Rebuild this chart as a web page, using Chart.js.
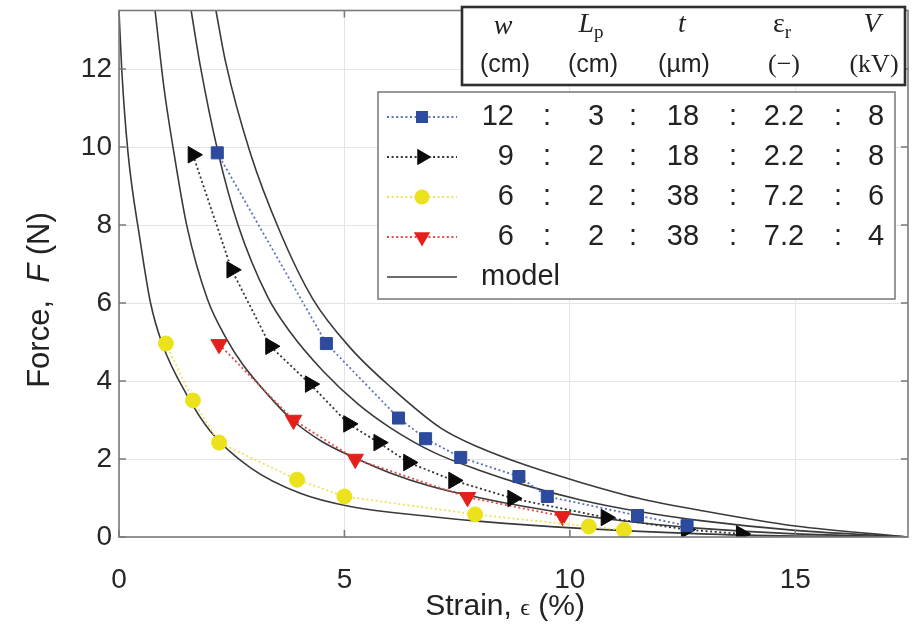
<!DOCTYPE html>
<html>
<head>
<meta charset="utf-8">
<script src="https://cdn.jsdelivr.net/npm/chart.js@4.4.0/dist/chart.umd.min.js"></script>
<style>
  html, body { margin: 0; padding: 0; background: #fff; }
</style>
</head>
<body>
<canvas id="forcechart" width="919" height="636"></canvas>
<script>
// measured points, strain (%) vs force (N)
var strainBlue = [2.18, 4.6, 6.2, 6.8, 7.58, 8.87, 9.5, 11.5, 12.6];
var forceBlue = [9.85, 4.96, 3.05, 2.52, 2.04, 1.55, 1.04, 0.55, 0.29];

var strainBlack = [1.64, 2.5, 3.36, 4.24, 5.09, 5.76, 6.42, 7.42, 8.73, 10.8, 12.58, 13.8];
var forceBlack = [9.8, 6.85, 4.89, 3.92, 2.9, 2.42, 1.91, 1.45, 0.99, 0.5, 0.19, 0.08];

var strainYellow = [1.04, 1.64, 2.22, 3.95, 5.0, 7.9, 10.42, 11.2];
var forceYellow = [4.96, 3.5, 2.42, 1.47, 1.04, 0.58, 0.27, 0.18];

var strainRed = [2.22, 3.87, 5.24, 7.73, 9.84];
var forceRed = [4.94, 3.0, 2.0, 1.02, 0.53];

// model curves, sampled off the figure
var modelAx = [0.0, 0.06, 0.2, 0.47, 0.7, 0.96, 1.5, 2.02, 2.91, 4.02, 5.13, 6.95, 8.02, 10.24, 12.9, 15, 17.5];
var modelAy = [13.5, 12.0, 9.85, 7.6, 6.0, 4.95, 3.65, 2.72, 1.78, 1.12, 0.78, 0.52, 0.4, 0.22, 0.08, 0.025, 0];
var modelBx = [0.8, 1.0, 1.24, 1.51, 1.96, 2.4, 2.73, 3.3, 3.84, 4.5, 5.29, 6.0, 6.91, 8.02, 9.0, 10.24, 11.5, 12.9, 15, 17.5];
var modelBy = [13.5, 11.5, 9.7, 7.95, 6.1, 5.05, 4.45, 3.65, 3.0, 2.45, 2.0, 1.65, 1.3, 1.0, 0.78, 0.55, 0.37, 0.22, 0.08, 0];
var modelCx = [1.6, 1.8, 2.2, 2.64, 3.3, 3.8, 4.53, 5.29, 6.02, 6.98, 8.02, 9.0, 10.24, 11.5, 12.9, 15, 17.5];
var modelCy = [13.5, 12.1, 9.85, 8.0, 6.15, 5.25, 4.25, 3.42, 2.8, 2.17, 1.7, 1.33, 0.95, 0.66, 0.42, 0.17, 0];
var modelDx = [2.15, 2.36, 2.91, 3.58, 4.3, 5.13, 6.02, 7.13, 8.02, 9.0, 10.24, 11.5, 12.9, 15, 17.5];
var modelDy = [13.5, 12.2, 9.85, 7.8, 6.1, 4.85, 3.85, 2.8, 2.28, 1.85, 1.4, 1.0, 0.68, 0.28, 0];

var xTicks = [0, 5, 10, 15];
var yTicks = [0, 2, 4, 6, 8, 10, 12];

// legend table
var legendW = ['12', '9', '6', '6'];
var legendLp = ['3', '2', '2', '2'];
var legendT = ['18', '18', '38', '38'];
var legendEr = ['2.2', '2.2', '7.2', '7.2'];
var legendV = ['8', '8', '6', '4'];
var headerUnits = ['(cm)', '(cm)', '(\u00b5m)', '(\u2212)', '(kV)'];

var SANS = '"Liberation Sans", Arial, sans-serif';
var SERIF = '"Liberation Serif", "DejaVu Serif", serif';

function pts(xs, ys) {
  return xs.map(function (x, i) { return { x: x, y: ys[i] }; });
}

var series = [
  { data: pts(strainBlue, forceBlue), marker: 'rect', rot: 0, r: 8.5, fill: '#2c4a9e', line: '#5b72bb' },
  { data: pts(strainBlack, forceBlack), marker: 'triangle', rot: 90, r: 9.5, fill: '#0a0a0a', line: '#333333' },
  { data: pts(strainYellow, forceYellow), marker: 'circle', rot: 0, r: 7.5, fill: '#ece21c', line: '#ece35a' },
  { data: pts(strainRed, forceRed), marker: 'triangle', rot: 180, r: 9.5, fill: '#e3201b', line: '#e24a45' }
];
var models = [pts(modelAx, modelAy), pts(modelBx, modelBy), pts(modelCx, modelCy), pts(modelDx, modelDy)];

var datasets = [];
series.forEach(function (s) {
  datasets.push({
    data: s.data, showLine: true, order: 1,
    borderColor: s.line, borderWidth: 1.8, borderDash: [2, 2.6],
    pointStyle: s.marker, rotation: s.rot, pointRadius: s.r,
    pointBackgroundColor: s.fill, pointBorderColor: s.fill, pointBorderWidth: 1
  });
});
models.forEach(function (m) {
  datasets.push({
    data: m, showLine: true, order: 5, pointRadius: 0,
    borderColor: '#3a3a3a', borderWidth: 1.6, cubicInterpolationMode: 'monotone'
  });
});

function drawMarker(ctx, style, rot, x, y, r, color) {
  ctx.save();
  ctx.fillStyle = color;
  ctx.beginPath();
  if (style === 'rect') {
    var s = r * Math.SQRT1_2;
    ctx.rect(x - s, y - s, 2 * s, 2 * s);
  } else if (style === 'circle') {
    ctx.arc(x, y, r, 0, Math.PI * 2);
  } else {
    var a = rot * Math.PI / 180;
    for (var k = 0; k < 3; k++) {
      var px = x + Math.sin(a) * r, py = y - Math.cos(a) * r;
      if (k === 0) ctx.moveTo(px, py); else ctx.lineTo(px, py);
      a += 2 * Math.PI / 3;
    }
    ctx.closePath();
  }
  ctx.fill();
  ctx.restore();
}

// draws text made of several runs with different fonts, centred on cx
function drawRich(ctx, parts, cx, cy) {
  var total = 0;
  parts.forEach(function (p) { ctx.font = p.f; p.w = ctx.measureText(p.t).width; total += p.w; });
  var x = cx - total / 2;
  ctx.textAlign = 'left';
  ctx.textBaseline = 'middle';
  parts.forEach(function (p) {
    ctx.font = p.f;
    ctx.fillText(p.t, x, cy + (p.dy || 0));
    x += p.w;
  });
}

var decorations = {
  id: 'decorations',
  afterDraw: function (chart) {
    var ctx = chart.ctx, a = chart.chartArea;
    var xs = chart.scales.x, ys = chart.scales.y;
    ctx.save();

    // frame + inner ticks
    ctx.strokeStyle = '#7a7a7a';
    ctx.lineWidth = 1.6;
    ctx.strokeRect(a.left, a.top, a.right - a.left, a.bottom - a.top);
    ctx.beginPath();
    xTicks.forEach(function (v) {
      var p = xs.getPixelForValue(v);
      ctx.moveTo(p, a.bottom); ctx.lineTo(p, a.bottom - 7);
      ctx.moveTo(p, a.top); ctx.lineTo(p, a.top + 7);
    });
    yTicks.forEach(function (v) {
      var p = ys.getPixelForValue(v);
      ctx.moveTo(a.left, p); ctx.lineTo(a.left + 7, p);
      ctx.moveTo(a.right, p); ctx.lineTo(a.right - 7, p);
    });
    ctx.stroke();

    ctx.fillStyle = '#222';
    // axis titles
    drawRich(ctx, [
      { t: 'Strain, ', f: '30px ' + SANS },
      { t: '\u03f5', f: '24px ' + SERIF, dy: 2 },
      { t: ' (%)', f: '30px ' + SANS }
    ], 505, 607);
    ctx.save();
    ctx.translate(40, 300);
    ctx.rotate(-Math.PI / 2);
    drawRich(ctx, [
      { t: 'Force,  ', f: '31px ' + SANS },
      { t: 'F', f: 'italic 31px ' + SANS },
      { t: ' (N)', f: '31px ' + SANS }
    ], 0, 0);
    ctx.restore();

    // header box
    ctx.fillStyle = '#fff';
    ctx.fillRect(462, 7, 443, 78);
    ctx.strokeStyle = '#2e2e2e';
    ctx.lineWidth = 2.6;
    ctx.strokeRect(462, 7, 443, 78);
    ctx.fillStyle = '#222';
    var colX = [503, 591, 682, 782, 872];
    var hs = 28, sub = 19;
    drawRich(ctx, [{ t: 'w', f: 'italic ' + hs + 'px ' + SERIF }], colX[0], 27);
    drawRich(ctx, [{ t: 'L', f: 'italic ' + hs + 'px ' + SERIF }, { t: 'p', f: sub + 'px ' + SERIF, dy: 8 }], colX[1], 25);
    drawRich(ctx, [{ t: 't', f: 'italic ' + hs + 'px ' + SERIF }], colX[2], 25);
    drawRich(ctx, [{ t: '\u03b5', f: hs + 'px ' + SERIF }, { t: 'r', f: sub + 'px ' + SERIF, dy: 8 }], colX[3], 25);
    drawRich(ctx, [{ t: 'V', f: 'italic ' + hs + 'px ' + SERIF }], colX[4], 25);
    headerUnits.forEach(function (u, i) {
      var f = i >= 3 ? '26px ' + SERIF : '25px ' + SANS;
      drawRich(ctx, [{ t: u, f: f }], colX[i] + 2, 65);
    });

    // legend box
    ctx.fillStyle = '#fff';
    ctx.fillRect(378, 92, 517, 207);
    ctx.strokeStyle = '#777';
    ctx.lineWidth = 1.5;
    ctx.strokeRect(378, 92, 517, 207);

    var rowY = [117, 157, 197, 237, 277];
    series.forEach(function (s, i) {
      var y = rowY[i];
      ctx.save();
      ctx.strokeStyle = s.line;
      ctx.lineWidth = 1.8;
      ctx.setLineDash([2, 2.6]);
      ctx.beginPath();
      ctx.moveTo(387, y); ctx.lineTo(457, y);
      ctx.stroke();
      ctx.restore();
      drawMarker(ctx, s.marker, s.rot, 422, y, s.r, s.fill);

      ctx.fillStyle = '#222';
      ctx.font = '29px ' + SANS;
      ctx.textBaseline = 'middle';
      ctx.textAlign = 'right';
      ctx.fillText(legendW[i], 514, y);
      ctx.textAlign = 'center';
      ctx.fillText(':', 547, y);
      ctx.fillText(legendLp[i], 596, y);
      ctx.fillText(':', 633, y);
      ctx.fillText(legendT[i], 683, y);
      ctx.fillText(':', 733, y);
      ctx.fillText(legendEr[i], 784, y);
      ctx.fillText(':', 838, y);
      ctx.fillText(legendV[i], 876, y);
    });
    ctx.strokeStyle = '#3a3a3a';
    ctx.lineWidth = 1.6;
    ctx.beginPath();
    ctx.moveTo(387, rowY[4]); ctx.lineTo(457, rowY[4]);
    ctx.stroke();
    ctx.fillStyle = '#222';
    ctx.font = '29px ' + SANS;
    ctx.textAlign = 'left';
    ctx.textBaseline = 'middle';
    ctx.fillText('model', 481, rowY[4]);

    ctx.restore();
  }
};

new Chart('forcechart', {
  type: 'scatter',
  data: { datasets: datasets },
  plugins: [decorations],
  options: {
    responsive: false,
    animation: false,
    layout: { padding: { top: 7, right: 11, left: 0, bottom: 0 } },
    plugins: { legend: { display: false }, tooltip: { enabled: false } },
    scales: {
      x: {
        min: 0, max: 17.5,
        afterFit: function (s) { s.height = 99; s.paddingLeft = 0; s.paddingRight = 0; },
        afterBuildTicks: function (s) { s.ticks = xTicks.map(function (v) { return { value: v }; }); },
        grid: { color: '#e4e4e4', lineWidth: 1, drawTicks: false },
        border: { display: false },
        ticks: { font: { family: SANS, size: 28 }, color: '#262626', padding: 26 }
      },
      y: {
        min: 0, max: 13.5,
        afterFit: function (s) { s.width = 119; s.paddingTop = 0; s.paddingBottom = 0; },
        afterBuildTicks: function (s) { s.ticks = yTicks.map(function (v) { return { value: v }; }); },
        grid: { color: '#e4e4e4', lineWidth: 1, drawTicks: false },
        border: { display: false },
        ticks: { font: { family: SANS, size: 28 }, color: '#262626', padding: 7 }
      }
    }
  }
});
</script>
</body>
</html>
